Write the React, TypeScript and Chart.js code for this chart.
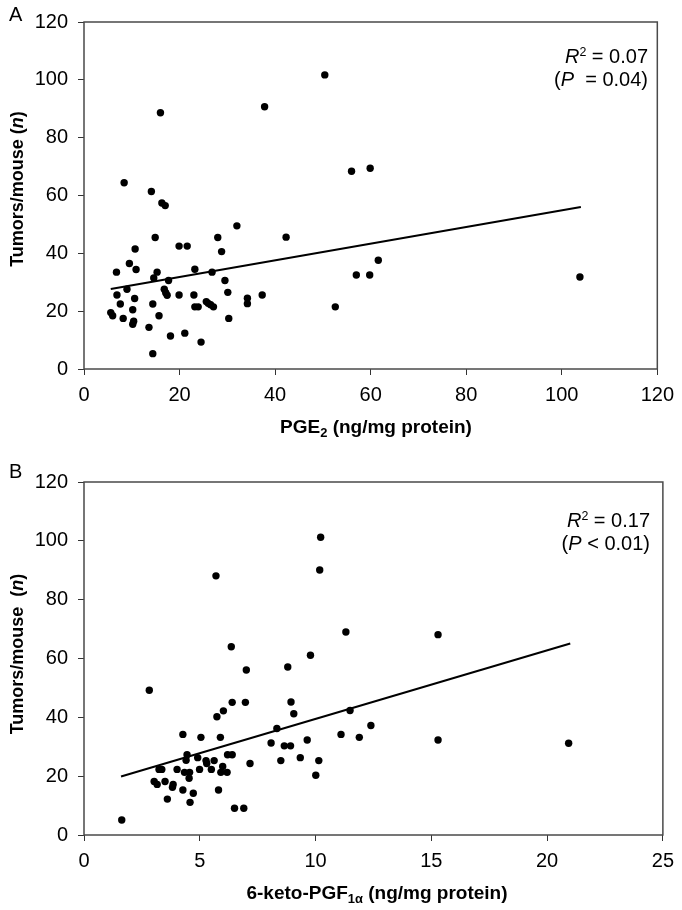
import React, { useEffect, useRef } from "react";
import { Chart, registerables } from "chart.js";

Chart.register(...registerables);

// Panel A: PGE2 (ng/mg protein) vs tumors/mouse
const pgeX = [16.0, 37.8, 8.4, 14.1, 16.3, 17.0, 14.9, 32.0, 28.0, 19.9, 21.6, 28.8, 10.7, 9.5, 6.8, 10.9, 15.3, 14.6, 23.2, 26.8, 17.7, 9.0, 16.8, 17.1, 17.4, 29.5, 30.1, 6.9, 10.6, 19.9, 23.0, 34.2, 37.3, 7.6, 14.4, 25.6, 26.0, 26.5, 27.1, 23.2, 23.9, 34.2, 10.2, 5.6, 6.0, 8.2, 15.7, 30.3, 10.4, 10.2, 13.6, 21.1, 18.1, 24.5, 14.4, 50.4, 56.0, 59.9, 42.3, 61.6, 57.0, 59.8, 52.6, 103.8];
const pgeY = [88.6, 90.7, 64.4, 61.4, 57.4, 56.5, 45.5, 49.5, 45.5, 42.5, 42.5, 40.6, 41.5, 36.5, 33.5, 34.4, 33.5, 31.5, 34.5, 33.5, 30.6, 27.6, 27.6, 26.4, 25.5, 30.6, 26.5, 25.6, 24.4, 25.6, 25.6, 24.5, 25.6, 22.5, 22.5, 23.3, 22.7, 22.2, 21.5, 21.5, 21.5, 22.6, 20.5, 19.5, 18.4, 17.5, 18.4, 17.5, 16.5, 15.5, 14.4, 12.4, 11.4, 9.3, 5.3, 101.7, 68.4, 69.4, 45.6, 37.6, 32.5, 32.5, 21.5, 31.8];
const pgeFitX = [5.6, 104.0];
const pgeFitY = [27.7, 56.0];

// Panel B: 6-keto-PGF1alpha (ng/mg protein) vs tumors/mouse
const ketoX = [5.70, 6.36, 7.01, 2.82, 6.40, 6.97, 6.02, 5.74, 4.27, 5.05, 5.89, 8.08, 4.45, 6.20, 6.40, 4.41, 4.91, 5.27, 5.30, 5.62, 7.17, 5.99, 3.24, 3.36, 4.02, 4.99, 5.50, 4.34, 4.56, 5.91, 6.18, 4.54, 3.03, 3.16, 3.50, 3.85, 3.82, 4.27, 5.81, 4.72, 3.60, 4.58, 6.50, 6.90, 1.63, 10.22, 10.18, 11.31, 15.29, 9.78, 8.80, 8.94, 9.06, 8.33, 11.49, 12.39, 11.10, 11.89, 9.64, 15.29, 8.65, 8.92, 8.50, 9.34, 10.14, 10.01, 20.93];
const ketoY = [88.1, 64.0, 56.1, 49.2, 45.1, 45.1, 42.2, 40.2, 34.2, 33.2, 33.2, 31.3, 27.3, 27.3, 27.3, 25.4, 26.3, 25.3, 24.3, 25.3, 24.3, 23.3, 22.3, 22.3, 22.3, 22.3, 22.3, 21.3, 21.3, 21.3, 21.3, 19.3, 18.2, 17.2, 18.2, 17.2, 16.2, 15.3, 15.3, 14.2, 12.2, 11.1, 9.1, 9.1, 5.1, 101.2, 90.1, 69.0, 68.1, 61.1, 57.1, 45.2, 41.2, 36.2, 42.3, 37.2, 34.2, 33.2, 32.3, 32.3, 30.3, 30.3, 25.3, 26.3, 25.3, 20.3, 31.2];
const ketoFitX = [1.6, 21.0];
const ketoFitY = [19.9, 65.1];

const yTicks = { min: 0, max: 120, step: 20 };
const pgeTicks = { min: 0, max: 120, step: 20 };
const ketoTicks = { min: 0, max: 25, step: 5 };

const FONT = "'Liberation Sans', Arial, Helvetica, sans-serif";

const frame = {
  id: "frame",
  afterDatasetsDraw(chart: any) {
    const { ctx, chartArea } = chart;
    ctx.save();
    ctx.strokeStyle = "#4a4a4a";
    ctx.lineWidth = 1.5;
    ctx.strokeRect(chartArea.left, chartArea.top, chartArea.right - chartArea.left, chartArea.bottom - chartArea.top);
    ctx.restore();
  },
};

function makeConfig(xs: number[], ys: number[], fx: number[], fy: number[], xt: any, padTop: number, padRight: number, xHeight: number) {
  const pts = xs.map((x, i) => ({ x, y: ys[i] }));
  const fit = fx.map((x, i) => ({ x, y: fy[i] }));
  return {
    type: "scatter" as const,
    data: {
      datasets: [
        {
          data: pts,
          pointRadius: 3.7,
          pointBackgroundColor: "#000",
          pointBorderWidth: 0,
          showLine: false,
        },
        {
          data: fit,
          showLine: true,
          borderColor: "#000",
          borderWidth: 2,
          pointRadius: 0,
          fill: false,
        },
      ],
    },
    options: {
      animation: false,
      responsive: false,
      maintainAspectRatio: false,
      layout: { padding: { top: padTop, right: padRight, left: 0, bottom: 0 } },
      plugins: { legend: { display: false }, tooltip: { enabled: false } },
      scales: {
        x: {
          type: "linear",
          min: xt.min,
          max: xt.max,
          ticks: { stepSize: xt.step, color: "#000", font: { family: FONT, size: 20 }, padding: 8, maxRotation: 0 },
          grid: { drawOnChartArea: false, drawTicks: true, tickLength: 6, color: "#333", lineWidth: 1 },
          border: { display: false },
          afterFit(scale: any) { scale.height = xHeight; },
        },
        y: {
          type: "linear",
          min: yTicks.min,
          max: yTicks.max,
          ticks: { stepSize: yTicks.step, color: "#000", font: { family: FONT, size: 20 }, padding: 10 },
          grid: { drawOnChartArea: false, drawTicks: true, tickLength: 6, color: "#333", lineWidth: 1 },
          border: { display: false },
          afterFit(scale: any) { scale.width = 84; },
        },
      },
    },
    plugins: [frame],
  };
}

const abs = (s: any): any => ({ position: "absolute", ...s });
const subStyle: any = { fontSize: "0.68em", verticalAlign: "-0.3em", lineHeight: 0 };
const supStyle: any = { fontSize: "0.62em", verticalAlign: "0.55em", lineHeight: 0 };

export default function App() {
  const refA = useRef<HTMLCanvasElement>(null);
  const refB = useRef<HTMLCanvasElement>(null);

  useEffect(() => {
    const a = new Chart(refA.current as any, makeConfig(pgeX, pgeY, pgeFitX, pgeFitY, pgeTicks, 18, 15, 86) as any);
    const b = new Chart(refB.current as any, makeConfig(ketoX, ketoY, ketoFitX, ketoFitY, ketoTicks, 27, 12, 75) as any);
    return () => {
      a.destroy();
      b.destroy();
    };
  }, []);

  const base: any = { fontFamily: FONT, color: "#000", whiteSpace: "nowrap" };
  const ytitle = (cy: number): any =>
    abs({ ...base, left: 17, top: cy, transform: "translate(-50%, -50%) rotate(-90deg)", fontWeight: "bold", fontSize: 18, lineHeight: "22px" });
  const xtitle = (cx: number, cy: number): any =>
    abs({ ...base, left: cx, top: cy, transform: "translate(-50%, -50%)", fontWeight: "bold", fontSize: 19, lineHeight: "22px" });
  const note = (top: number, right: number): any =>
    abs({ ...base, right, top, textAlign: "right", fontSize: 20, lineHeight: "23px" });

  return (
    <div style={abs({ left: 0, top: 0, width: 682, height: 910, background: "#fff", overflow: "hidden" })}>
      <canvas ref={refA} width={682} height={455} style={abs({ left: 0, top: 0, width: 682, height: 455 })} />
      <canvas ref={refB} width={682} height={455} style={abs({ left: 0, top: 455, width: 682, height: 455 })} />

      <div style={abs({ ...base, left: 9, top: 2, fontSize: 20, lineHeight: "24px" })}>A</div>
      <div style={ytitle(189)}>Tumors/mouse (<i>n</i>)</div>
      <div style={xtitle(376, 427)}>PGE<sub style={subStyle}>2</sub> (ng/mg protein)</div>
      <div style={note(45, 34)}>
        <div><i>R</i><sup style={supStyle}>2</sup> = 0.07</div>
        <div>(<i>P</i> &nbsp;= 0.04)</div>
      </div>

      <div style={abs({ ...base, left: 9, top: 459, fontSize: 20, lineHeight: "24px" })}>B</div>
      <div style={ytitle(654)}>Tumors/mouse&nbsp; (<i>n</i>)</div>
      <div style={xtitle(377, 893)}>6-keto-PGF<sub style={subStyle}>1α</sub> (ng/mg protein)</div>
      <div style={note(509, 32)}>
        <div><i>R</i><sup style={supStyle}>2</sup> = 0.17</div>
        <div>(<i>P</i> &lt; 0.01)</div>
      </div>
    </div>
  );
}
